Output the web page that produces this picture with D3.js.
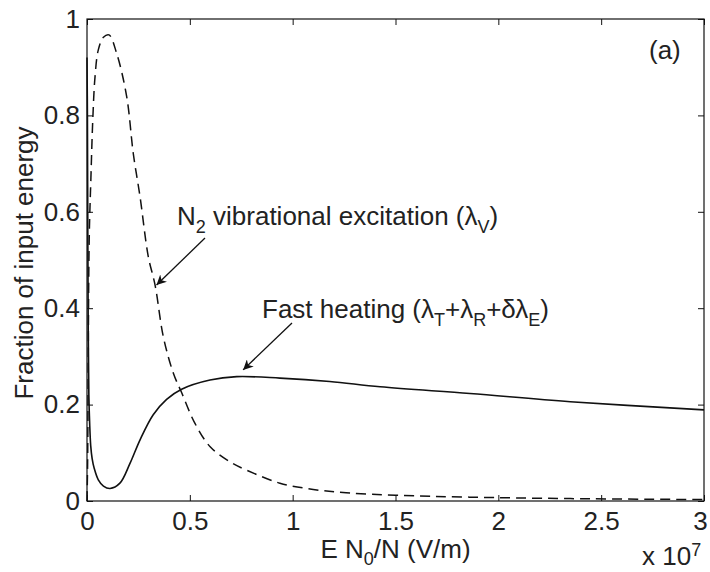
<!DOCTYPE html>
<html>
<head>
<meta charset="utf-8">
<script src="https://cdn.jsdelivr.net/npm/d3@7"></script>
<style>
  html, body { margin: 0; padding: 0; background: #fff; }
  svg { display: block; }
  text { font-family: "Liberation Sans", Arial, Helvetica, sans-serif; fill: #222; }
</style>
</head>
<body>
<svg id="chart" width="710" height="572"></svg>
<script>
// Field values, in units of 1e7 V/m
const xVib  = [0, 0.003, 0.006, 0.011, 0.019, 0.028, 0.039, 0.055, 0.08, 0.107, 0.144, 0.193, 0.225, 0.258, 0.298, 0.331, 0.371, 0.42, 0.46, 0.525, 0.6, 0.7, 0.776, 0.938, 1.1, 1.26, 1.5, 1.86, 2.35, 3.0];
// N2 vibrational excitation fraction
const yVib  = [0, 0.08, 0.3, 0.55, 0.67, 0.79, 0.88, 0.936, 0.962, 0.967, 0.929, 0.839, 0.721, 0.631, 0.507, 0.448, 0.341, 0.265, 0.225, 0.161, 0.112, 0.08, 0.064, 0.037, 0.024, 0.017, 0.012, 0.008, 0.005, 0.003];

const xFast = [0, 0.002, 0.004, 0.006, 0.009, 0.013, 0.018, 0.025, 0.035, 0.055, 0.08, 0.112, 0.16, 0.209, 0.258, 0.322, 0.387, 0.46, 0.598, 0.728, 0.938, 1.18, 1.425, 1.862, 2.35, 3.0];
// Fast heating fraction
const yFast = [0.92, 0.8, 0.55, 0.35, 0.22, 0.16, 0.115, 0.088, 0.068, 0.044, 0.031, 0.026, 0.037, 0.078, 0.127, 0.179, 0.211, 0.232, 0.251, 0.258, 0.255, 0.248, 0.237, 0.223, 0.206, 0.189];

const xTicks = [0, 0.5, 1, 1.5, 2, 2.5, 3];
const xTickLabels = ["0", "0.5", "1", "1.5", "2", "2.5", "3"];
const yTicks = [0, 0.2, 0.4, 0.6, 0.8, 1];
const yTickLabels = ["0", "0.2", "0.4", "0.6", "0.8", "1"];

const margin = { left: 87, right: 6, top: 19, bottom: 71 };
const W = 710, H = 572;
const iw = W - margin.left - margin.right;
const ih = H - margin.top - margin.bottom;

const svg = d3.select("#chart");
const g = svg.append("g").attr("transform", `translate(${margin.left},${margin.top})`);

const x = d3.scaleLinear().domain([0, 3]).range([0, iw]);
const y = d3.scaleLinear().domain([0, 1]).range([ih, 0]);

const ink = "#111";
const fontSize = 26;
const subSize = 18;

// Arrow marker
svg.append("defs").append("marker")
  .attr("id", "arrow")
  .attr("viewBox", "0 0 10 10")
  .attr("refX", 10).attr("refY", 5)
  .attr("markerWidth", 10).attr("markerHeight", 10)
  .attr("markerUnits", "userSpaceOnUse")
  .attr("orient", "auto")
  .append("path")
  .attr("d", "M0,0 L10,5 L0,10 L3,5 Z")
  .attr("fill", ink);

// Curves
const line = d3.line().curve(d3.curveCatmullRom.alpha(0.5))
  .x(d => x(d[0])).y(d => y(d[1]));

g.append("path")
  .datum(d3.zip(xVib, yVib))
  .attr("d", line)
  .attr("fill", "none")
  .attr("stroke", ink)
  .attr("stroke-width", 1.5)
  .attr("stroke-dasharray", "10,6");

g.append("path")
  .datum(d3.zip(xFast, yFast))
  .attr("d", line)
  .attr("fill", "none")
  .attr("stroke", ink)
  .attr("stroke-width", 1.6);

// Axes: inward ticks on all four sides
const tickLen = 6;
const axStyle = sel => {
  sel.select(".domain").remove();
  sel.selectAll(".tick line").attr("stroke", ink).attr("stroke-width", 1);
  sel.selectAll("text").style("font-size", fontSize + "px").attr("fill", "#222")
    .style("font-family", '"Liberation Sans", Arial, sans-serif');
};

const xAxisG = g.append("g").attr("transform", `translate(0,${ih})`)
  .call(d3.axisBottom(x).tickValues(xTicks).tickFormat((d, i) => xTickLabels[i])
    .tickSizeInner(-tickLen).tickSizeOuter(0).tickPadding(11))
  .call(axStyle);
// keep the last tick label inside the page
xAxisG.selectAll(".tick text").filter(d => d === 3).attr("dx", -4);

g.append("g")
  .call(d3.axisTop(x).tickValues(xTicks).tickFormat("")
    .tickSizeInner(-tickLen).tickSizeOuter(0))
  .call(axStyle);

g.append("g")
  .call(d3.axisLeft(y).tickValues(yTicks).tickFormat((d, i) => yTickLabels[i])
    .tickSizeInner(-tickLen).tickSizeOuter(0).tickPadding(7))
  .call(axStyle);

g.append("g").attr("transform", `translate(${iw},0)`)
  .call(d3.axisRight(y).tickValues(yTicks).tickFormat("")
    .tickSizeInner(-tickLen).tickSizeOuter(0))
  .call(axStyle);

// Frame
g.append("rect")
  .attr("x", 0).attr("y", 0).attr("width", iw).attr("height", ih)
  .attr("fill", "none").attr("stroke", ink).attr("stroke-width", 1.2);

// Axis labels
const xl = svg.append("text")
  .attr("x", margin.left + iw / 2).attr("y", 558)
  .attr("text-anchor", "middle")
  .style("font-size", fontSize + "px");
xl.append("tspan").text("E N");
xl.append("tspan").attr("dy", 7).style("font-size", subSize + "px").text("0");
xl.append("tspan").attr("dy", -7).text("/N (V/m)");

svg.append("text")
  .attr("transform", `translate(33,263) rotate(-90)`)
  .attr("text-anchor", "middle")
  .style("font-size", fontSize + "px")
  .text("Fraction of input energy");

// Exponent
const ex = svg.append("text")
  .attr("x", 642).attr("y", 565)
  .style("font-size", fontSize + "px");
ex.append("tspan").text("x 10");
ex.append("tspan").attr("dy", -9).style("font-size", subSize + "px").text("7");

// Panel tag
svg.append("text")
  .attr("x", 649).attr("y", 59)
  .style("font-size", fontSize + "px")
  .text("(a)");

// Annotations
const a1 = svg.append("text")
  .attr("x", 177).attr("y", 225)
  .style("font-size", fontSize + "px");
a1.append("tspan").text("N");
a1.append("tspan").attr("dy", 8).style("font-size", subSize + "px").text("2");
a1.append("tspan").attr("dy", -8).text(" vibrational excitation (λ");
a1.append("tspan").attr("dy", 8).style("font-size", subSize + "px").text("V");
a1.append("tspan").attr("dy", -8).text(")");

const a2 = svg.append("text")
  .attr("x", 262).attr("y", 318)
  .style("font-size", fontSize + "px");
a2.append("tspan").text("Fast heating (λ");
a2.append("tspan").attr("dy", 8).style("font-size", subSize + "px").text("T");
a2.append("tspan").attr("dy", -8).text("+λ");
a2.append("tspan").attr("dy", 8).style("font-size", subSize + "px").text("R");
a2.append("tspan").attr("dy", -8).text("+δλ");
a2.append("tspan").attr("dy", 8).style("font-size", subSize + "px").text("E");
a2.append("tspan").attr("dy", -8).text(")");

// Arrows pointing at the curves
const arrowTo = (x0, y0, vx, vy) => {
  svg.append("line")
    .attr("x1", x0).attr("y1", y0)
    .attr("x2", margin.left + x(vx)).attr("y2", margin.top + y(vy))
    .attr("stroke", ink).attr("stroke-width", 1.3)
    .attr("marker-end", "url(#arrow)");
};
arrowTo(205, 238, 0.338, 0.448);
arrowTo(292, 323, 0.759, 0.272);
</script>
</body>
</html>
